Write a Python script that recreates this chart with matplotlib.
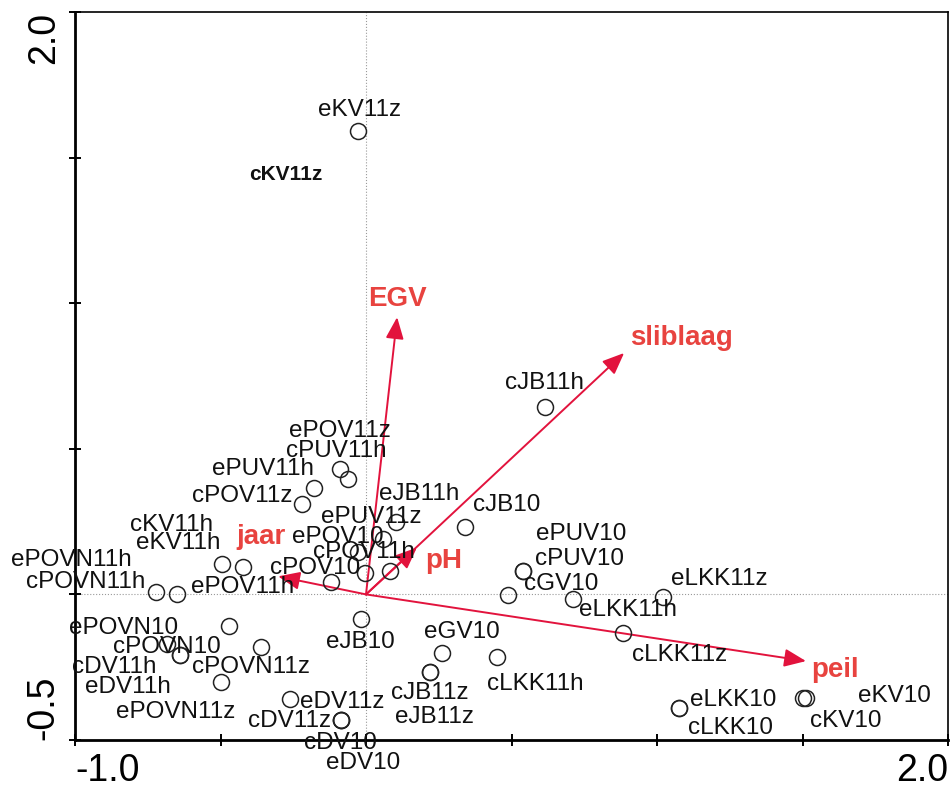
import matplotlib
matplotlib.use('Agg')
import matplotlib.pyplot as plt
import numpy as np

plt.rcParams['font.family'] = ['Liberation Sans', 'DejaVu Sans']

# sample scores (axis 1, axis 2)
samples = ['eKV11z', 'cJB11h', 'cJB10', 'ePUV10', 'cPUV10', 'cGV10', 'eLKK11h',
           'eLKK11z', 'cLKK11z', 'cLKK11h', 'eLKK10', 'cLKK10', 'eKV10', 'cKV10',
           'eGV10', 'cJB11z', 'eJB11z', 'eJB10', 'eDV11z', 'cDV11z', 'cDV10',
           'eDV10', 'ePOVN11z', 'cPOVN11z', 'ePOVN10', 'cPOVN10', 'cDV11h',
           'eDV11h', 'ePOVN11h', 'cPOVN11h', 'cKV11h', 'eKV11h', 'ePOV11h',
           'cPOV10', 'cPOV11h', 'ePOV10', 'ePUV11z', 'eJB11h', 'cPOV11z',
           'ePUV11h', 'cPUV11h', 'ePOV11z']
sx = [-0.027, 0.615, 0.340, 0.540, 0.540, 0.488, 0.711,
      1.021, 0.883, 0.450, 1.076, 1.076, 1.512, 1.502,
      0.261, 0.220, 0.220, -0.017, -0.261, -0.086, -0.086,
      -0.086, -0.498, -0.361, -0.471, -0.684, -0.639,
      -0.639, -0.722, -0.649, -0.495, -0.423, -0.120,
      -0.003, 0.082, -0.027, 0.058, 0.103, -0.220,
      -0.179, -0.062, -0.089]
sy = [1.592, 0.645, 0.233, 0.082, 0.082, -0.003, -0.017,
      -0.010, -0.134, -0.216, -0.391, -0.391, -0.357, -0.357,
      -0.202, -0.268, -0.268, -0.086, -0.360, -0.432, -0.432,
      -0.432, -0.302, -0.182, -0.110, -0.172, -0.209,
      -0.209, 0.007, 0.000, 0.106, 0.093, 0.041,
      0.072, 0.079, 0.144, 0.189, 0.247, 0.309,
      0.364, 0.395, 0.432]

# label placement (pixels from the point)
label_off = [(1, 21), (0, 24), (42, 22), (58, 37), (56, 12), (53, 11), (55, -11),
             (56, 18), (57, -22), (38, -27), (54, 8), (51, -20), (88, 2), (43, -23),
             (20, 21), (0, -21), (4, -45), (-1, -23), (52, -3), (-51, -1), (-1, -23),
             (22, -43), (-45, -30), (-10, -20), (-105, -2), (0, -3), (-66, -12),
             (-52, -32), (-85, 32), (-91, 12), (-50, 39), (-65, 24), (-88, -5),
             (-50, 5), (-26, 19), (-20, 15), (-12, 22), (23, 28), (-60, 8),
             (-51, 19), (-12, 28), (0, 38)]

# environmental variables (arrow tips)
env = ['EGV', 'sliblaag', 'peil', 'jaar', 'pH']
ex = [0.107, 0.887, 1.512, -0.302, 0.175]
ey = [0.952, 0.829, -0.229, 0.062, 0.161]
env_off = [(0, 18), (57, 15), (29, -9), (-17, 39), (27, -13)]

# bold label without symbol
extra_label = 'cKV11z'
extra_xy = (-0.275, 1.442)

arrow_col = '#e2133d'
label_col = '#e8433f'

fig = plt.figure(figsize=(9.5, 7.87), dpi=100)
ax = fig.add_axes([75/950, 1-740/787, 873/950, 728/787])
ax.set_xlim(-1.0, 2.0)
ax.set_ylim(-0.5, 2.0)

ax.axhline(0, color='#9a9a9a', lw=0.8, ls=':', zorder=0)
ax.axvline(0, color='#9a9a9a', lw=0.8, ls=':', zorder=0)

for i in range(len(ex)):
    ax.annotate('', xy=(ex[i], ey[i]), xytext=(0, 0),
                arrowprops=dict(arrowstyle='-|>,head_length=0.6,head_width=0.25',
                                color=arrow_col, lw=1.4, mutation_scale=22,
                                shrinkA=0, shrinkB=0), zorder=2)
    ax.annotate(env[i], xy=(ex[i], ey[i]), xytext=env_off[i], textcoords='offset pixels',
                ha='center', va='center', fontsize=20, fontweight='bold',
                color=label_col, zorder=4)

ax.plot(sx, sy, 'o', ms=11.5, mfc='none', mec='#222222', mew=1.1, zorder=3)
for i in range(len(samples)):
    ax.annotate(samples[i], xy=(sx[i], sy[i]), xytext=label_off[i],
                textcoords='offset pixels', ha='center', va='center',
                fontsize=17.5, color='#111111', zorder=4)

ax.text(extra_xy[0], extra_xy[1], extra_label, ha='center', va='center',
        fontsize=15, fontweight='bold', color='#111111')

ax.set_xticks(np.arange(-1.0, 2.01, 0.5))
ax.set_xticklabels(['-1.0', '', '', '', '', '', '2.0'])
ax.set_yticks(np.arange(-0.5, 2.01, 0.5))
ax.set_yticklabels(['-0.5', '', '', '', '', '2.0'], rotation=90)
ax.tick_params(direction='inout', length=9, width=1.4, labelsize=27, pad=5)
xl = ax.get_xticklabels()
xl[0].set_ha('left')
xl[-1].set_ha('right')
yl = ax.get_yticklabels()
yl[0].set_va('bottom')
yl[-1].set_va('top')

for s in ['left', 'bottom']:
    ax.spines[s].set_linewidth(2)
for s in ['top', 'right']:
    ax.spines[s].set_linewidth(1.2)

fig.savefig('out.png', dpi=100)
